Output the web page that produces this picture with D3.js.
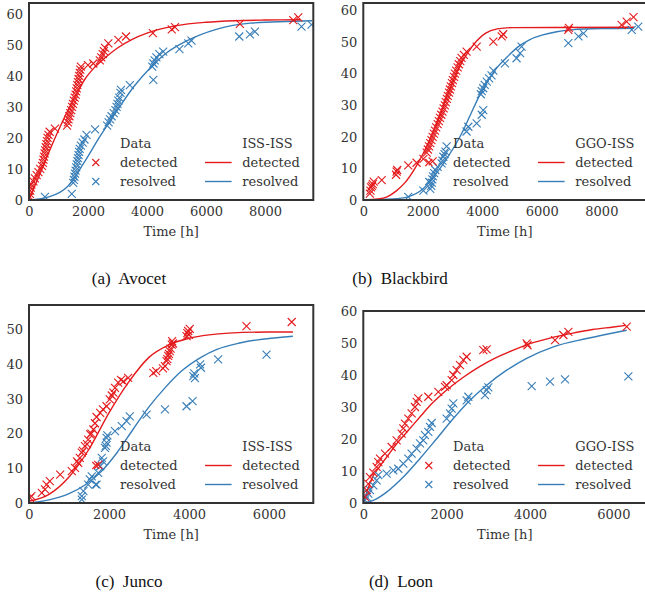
<!DOCTYPE html>
<html>
<head>
<meta charset="utf-8">
<script src="https://cdn.jsdelivr.net/npm/d3@7"></script>
<style>
  body { margin: 0; background: #fff; }
</style>
</head>
<body>
<script>

// ---- data: [time in h, cumulative count] ----

var avocetDetected = [[20,1],[30,2],[40,3],[60,4],[80,5],[150,6],[200,7],[260,8],[320,9],[380,10],[440,11],[470,12],[490,13],[510,14],[530,15],[550,16],[570,17],[590,18],[610,19],[630,20],[660,21],[700,22],[880,23],[1290,24],[1320,25],[1340,26],[1370,27],[1400,28],[1430,29],[1460,30],[1490,31],[1520,32],[1550,33],[1580,34],[1600,35],[1620,36],[1640,37],[1660,38],[1680,39],[1700,40],[1720,41],[1740,42],[1760,43],[2000,43.5],[2180,44],[2400,45],[2450,46],[2500,47],[2540,48],[2580,49],[2690,50.5],[3030,51.6],[3290,52.7],[4200,53.8],[4840,55],[4950,55.7],[7150,56.8],[8960,58],[9130,58.9]];
var avocetResolved = [[540,1],[1450,2],[1500,5.5],[1520,6.5],[1540,7.5],[1560,8.5],[1580,9.5],[1600,10.5],[1620,11.5],[1640,12.5],[1660,13.5],[1680,14.5],[1700,15.5],[1720,16.5],[1760,17.5],[1820,18.5],[1880,19.5],[1950,21],[2240,22.8],[2650,24],[2700,25],[2750,26],[2800,27],[2870,28],[2930,29],[2970,30],[3000,31],[3030,32],[3060,33],[3100,34.5],[3120,35.5],[3420,37],[4215,38.7],[4180,43],[4220,44],[4260,45],[4320,46],[4420,47],[4550,47.8],[5100,48.6],[5400,50.5],[5510,51.4],[7130,52.7],[7490,53.4],[7660,54.3],[9240,55.9],[9580,56.5]];
var avocetFitDetected = [[0,0],[150,3.5],[400,9],[700,16],[1000,22.5],[1300,28.5],[1600,34],[1900,39],[2200,42.5],[2600,46],[3000,49],[3500,51.8],[4000,53.8],[5000,56.2],[6000,57.3],[7000,57.8],[8000,58],[9200,58.1]];
var avocetFitResolved = [[0,0],[700,1.1],[1300,4.3],[1850,11.8],[2400,20.4],[3000,29],[3550,36.5],[4100,42.5],[4650,47.3],[5350,51.3],[6350,55],[7500,57],[9600,57.8]];

var blackbirdDetected = [[220,2],[240,3],[260,4],[290,4.5],[320,5],[350,5.8],[620,6.3],[1100,8],[1120,9],[1140,9.5],[1510,11],[1790,11.8],[2020,13],[2330,12.2],[2130,15],[2170,16],[2210,17],[2250,18],[2290,19],[2330,20],[2370,21],[2410,22],[2450,23],[2500,24],[2540,25],[2580,26],[2620,27],[2660,28],[2700,29],[2740,30],[2770,31],[2810,32],[2840,33],[2880,34],[2910,35],[2940,36],[2980,37],[3010,38],[3050,39],[3080,40],[3120,41],[3170,42],[3210,43],[3260,44],[3300,45],[3380,46],[3470,47],[3810,48.6],[4370,50.2],[4650,51.8],[4700,52.5],[6890,53.9],[6910,54.5],[8680,55.5],[8850,56.5],[9080,57.9]];
var blackbirdResolved = [[1510,1],[2020,3],[2250,3.5],[2280,4.5],[2300,5.5],[2320,6.5],[2340,7.5],[2380,8.5],[2420,9.5],[2500,10.5],[2630,11.6],[2660,12.5],[2690,13.7],[2730,14.5],[2760,15.3],[2800,17],[3470,21.7],[3530,23.2],[3810,24.3],[3980,27],[4030,28.5],[3950,33.5],[3980,34.5],[4030,35.4],[4080,36.5],[4150,37.5],[4230,38.5],[4310,39.5],[4370,41],[4760,43.3],[5150,44.9],[5270,46.5],[5320,48.6],[6890,49.7],[7230,51.8],[7400,52.8],[9020,53.9],[9240,54.9]];
var blackbirdFitDetected = [[0,0],[500,0.3],[800,1],[1100,2.8],[1400,5.5],[1700,9.5],[2000,14.5],[2300,20.5],[2600,27.5],[2900,35],[3200,41.5],[3500,46.5],[3800,50.3],[4100,52.8],[4500,54.2],[5000,54.6],[9100,54.7]];
var blackbirdFitResolved = [[0,0],[1000,0.3],[1500,1],[2000,3.5],[2500,9],[3000,16],[3300,21],[3600,27],[3900,33],[4200,38],[4500,42],[4800,45],[5200,48.5],[5600,50.8],[6000,52.2],[6500,53.3],[7000,53.9],[8000,54.3],[9100,54.4]];

var juncoDetected = [[25,1.5],[60,2],[320,2.9],[400,3.9],[440,5.3],[520,6.3],[780,8.2],[1070,9.2],[1150,10.1],[1200,12],[1230,11.6],[1270,13],[1320,14.5],[1350,15],[1400,16.4],[1450,17],[1480,18.3],[1530,19.8],[1560,20],[1610,21.2],[1650,23],[1690,24.8],[1730,11],[1780,26],[1850,27],[1940,27.9],[2020,29.9],[2070,31],[2110,31.8],[2150,33.2],[2230,34.7],[2300,35.5],[2360,35.1],[2480,36.1],[3110,37.5],[3180,38],[3350,38.8],[3400,39.5],[3440,40.9],[3460,41.5],[3480,42.4],[3500,43],[3520,43.8],[3540,44.5],[3570,45.7],[3600,46],[3580,46.7],[3940,48.1],[4000,48.5],[3960,49],[3980,49.6],[4020,50.2],[5440,51],[6570,52.2]];
var juncoResolved = [[1320,1],[1320,2],[1360,3.4],[1480,5.3],[1520,6.8],[1570,7.7],[1690,5.3],[1730,8.7],[1780,10.6],[1850,12],[1820,13],[1900,15.9],[1920,16.5],[1940,17.4],[1940,18.8],[1960,19.5],[2150,20.7],[2320,22.2],[2440,23.6],[2520,25],[2940,25.5],[3400,27],[3940,27.9],[4090,29.4],[4150,36],[4110,36.6],[4130,37.4],[4300,39],[4280,40],[4730,41.4],[5940,42.8]];
var juncoFitDetected = [[0,0.5],[500,2.5],[1000,7.5],[1500,15.5],[2000,26],[2500,35],[3000,42],[3500,45.6],[4000,47.5],[4500,48.5],[5000,49],[6000,49.3],[6600,49.3]];
var juncoFitResolved = [[0,0],[500,0.9],[1000,2.7],[1400,5.2],[1800,9],[2200,14.5],[2600,21.2],[3000,27.7],[3400,33.2],[3800,37.9],[4300,42],[4700,44.3],[5300,46.2],[6600,48.1]];

var loonDetected = [[40,1.9],[80,4],[120,6],[160,8.1],[240,9.5],[320,11.3],[360,12.8],[400,13.9],[520,15.4],[680,17.5],[800,19.6],[920,21.7],[960,23.3],[1000,24.8],[1080,26.4],[1160,28],[1240,30],[1280,31.6],[1320,32.7],[1560,33.2],[1800,34.7],[1960,36.3],[2000,36.8],[2120,38.4],[2160,40],[2240,41.5],[2320,43.1],[2400,44.7],[2480,45.7],[2880,47.8],[2960,48],[3920,49.9],[3940,49.3],[4600,50.9],[4800,52.5],[4920,53.5],[6320,55.1]];
var loonResolved = [[40,0.8],[80,1.9],[120,2.9],[160,4],[240,5.5],[320,7.1],[360,8.7],[560,9.2],[720,10.2],[840,10.7],[960,12.3],[1080,13.9],[1160,15.4],[1280,17],[1360,18.6],[1440,19.6],[1480,21.2],[1560,22.2],[1600,23.8],[1640,25],[2000,26.4],[2080,28],[2120,29.5],[2160,31.1],[2480,32.1],[2520,33.2],[2920,33.7],[2960,35.3],[3000,36.1],[4040,36.5],[4480,37.9],[4840,38.6],[6360,39.6]];
var loonFitDetected = [[0,0],[100,4],[200,7.5],[400,11.5],[600,15],[800,18.5],[1000,21.5],[1200,24.5],[1400,27.5],[1600,30.5],[1800,33],[2000,35.3],[2400,39.3],[2800,42.7],[3200,45.5],[3600,47.8],[4000,49.8],[4500,51.6],[5000,53],[5500,54.2],[6000,55],[6300,55.5]];
var loonFitResolved = [[0,0],[240,0.8],[560,3.4],[960,8.1],[1360,13.9],[1760,20.1],[2160,26.4],[2560,32.1],[2960,36.8],[3440,41.5],[3920,45.2],[4560,48.8],[5360,51.4],[6320,54]];

var captions = ["(a)\u00a0 Avocet", "(b)\u00a0 Blackbird", "(c)\u00a0 Junco", "(d)\u00a0 Loon"];
var modelNames = ["ISS-ISS", "GGO-ISS", "ISS-ISS", "GGO-ISS"];
var xTicks = [[0,2000,4000,6000,8000],[0,2000,4000,6000,8000],[0,2000,4000,6000],[0,2000,4000,6000]];
var yTicks = [[0,10,20,30,40,50,60],[0,10,20,30,40,50,60],[0,10,20,30,40,50],[0,10,20,30,40,50,60]];
var xMax = [9640, 9510, 7110, 6790];
var yMax = [63.5, 62.4, 57.1, 60];
var seriesNames = ["detected", "resolved"];

var RED = "#e41a1c", BLUE = "#377eb8";
var FONT = "'DejaVu Serif', serif";

// layout of the four sub-figures (pixel boxes of the plot areas)
var boxes = [
  {left: 29, right: 313.3, top: 3, bottom: 200, cap: [129, 283.5]},
  {left: 363.3, right: 646.3, top: 3, bottom: 200, cap: [400, 283.5]},
  {left: 29, right: 313.3, top: 305, bottom: 503, cap: [129, 587]},
  {left: 363.3, right: 646.3, top: 311, bottom: 503, cap: [401, 587]}
];

var panelData = [
  [avocetDetected, avocetResolved, avocetFitDetected, avocetFitResolved],
  [blackbirdDetected, blackbirdResolved, blackbirdFitDetected, blackbirdFitResolved],
  [juncoDetected, juncoResolved, juncoFitDetected, juncoFitResolved],
  [loonDetected, loonResolved, loonFitDetected, loonFitResolved]
];

var svg = d3.select("body").append("svg")
  .attr("width", 645)
  .attr("height", 595);

function cross(r) {
  return "M" + (-r) + "," + (-r) + "L" + r + "," + r + "M" + (-r) + "," + r + "L" + r + "," + (-r);
}

// every label in the plots uses the same serif face
function label(sel) {
  return sel.style("font-family", FONT).style("font-size", "13px").style("fill", "#333");
}

function drawPanel(i) {
  var b = boxes[i];
  var d = panelData[i];
  var g = svg.append("g");

  var x = d3.scaleLinear().domain([0, xMax[i]]).range([b.left, b.right]);
  var y = d3.scaleLinear().domain([0, yMax[i]]).range([b.bottom, b.top]);

  g.append("clipPath").attr("id", "clip" + i)
    .append("rect")
    .attr("x", b.left).attr("y", b.top)
    .attr("width", b.right - b.left).attr("height", b.bottom - b.top);

  var plot = g.append("g").attr("clip-path", "url(#clip" + i + ")");

  // fitted curves
  var line = d3.line()
    .x(function(p) { return x(p[0]); })
    .y(function(p) { return y(p[1]); })
    .curve(d3.curveMonotoneX);
  plot.append("path").datum(d[3])
    .attr("d", line).attr("fill", "none")
    .attr("stroke", BLUE).attr("stroke-width", 1.4);
  plot.append("path").datum(d[2])
    .attr("d", line).attr("fill", "none")
    .attr("stroke", RED).attr("stroke-width", 1.4);

  // data crosses: resolved first, detected on top
  [[d[1], BLUE], [d[0], RED]].forEach(function(s) {
    plot.selectAll(null).data(s[0]).enter()
      .append("path")
      .attr("d", cross(4))
      .attr("transform", function(p) { return "translate(" + x(p[0]) + "," + y(p[1]) + ")"; })
      .attr("fill", "none")
      .attr("stroke", s[1])
      .attr("stroke-width", 1.1);
  });

  // axes, no tick marks (seaborn white look)
  var xa = g.append("g")
    .attr("transform", "translate(0," + b.bottom + ")")
    .call(d3.axisBottom(x).tickValues(xTicks[i]).tickSize(0).tickPadding(7).tickFormat(d3.format("d")));
  var ya = g.append("g")
    .attr("transform", "translate(" + b.left + ",0)")
    .call(d3.axisLeft(y).tickValues(yTicks[i]).tickSize(0).tickPadding(6).tickFormat(d3.format("d")));
  [xa, ya].forEach(function(a) {
    a.select(".domain").remove();
    label(a.selectAll("text"));
  });

  g.append("rect")
    .attr("x", b.left).attr("y", b.top)
    .attr("width", b.right - b.left).attr("height", b.bottom - b.top)
    .attr("fill", "none").attr("stroke", "#333").attr("stroke-width", 2);

  label(g.append("text")
    .attr("x", (b.left + b.right) / 2).attr("y", b.bottom + 36)
    .attr("text-anchor", "middle"))
    .text("Time [h]");

  // legend, two columns anchored to the lower right corner
  var lg = g.append("g");
  var rowY = [b.bottom - 56.7, b.bottom - 37.5, b.bottom - 18.5];
  label(lg.append("text").attr("x", b.right - 193.3).attr("y", rowY[0]).attr("dy", "0.35em")).text("Data");
  label(lg.append("text").attr("x", b.right - 71).attr("y", rowY[0]).attr("dy", "0.35em")).text(modelNames[i]);
  seriesNames.forEach(function(name, k) {
    var col = k === 0 ? RED : BLUE;
    lg.append("path").attr("d", cross(3.5))
      .attr("transform", "translate(" + (b.right - 217.5) + "," + rowY[k + 1] + ")")
      .attr("fill", "none").attr("stroke", col).attr("stroke-width", 1.1);
    label(lg.append("text").attr("x", b.right - 193.3).attr("y", rowY[k + 1]).attr("dy", "0.35em")).text(name);
    lg.append("line")
      .attr("x1", b.right - 108.3).attr("x2", b.right - 81.7)
      .attr("y1", rowY[k + 1]).attr("y2", rowY[k + 1])
      .attr("stroke", col).attr("stroke-width", 1.4);
    label(lg.append("text").attr("x", b.right - 71).attr("y", rowY[k + 1]).attr("dy", "0.35em")).text(name);
  });

  // sub-figure caption
  svg.append("text")
    .attr("x", b.cap[0]).attr("y", b.cap[1])
    .attr("text-anchor", "middle")
    .style("font-family", "'Liberation Serif', 'Times New Roman', serif")
    .style("font-size", "17px")
    .style("fill", "#111")
    .text(captions[i]);
}

for (var i = 0; i < 4; i++) drawPanel(i);

</script>
</body>
</html>
